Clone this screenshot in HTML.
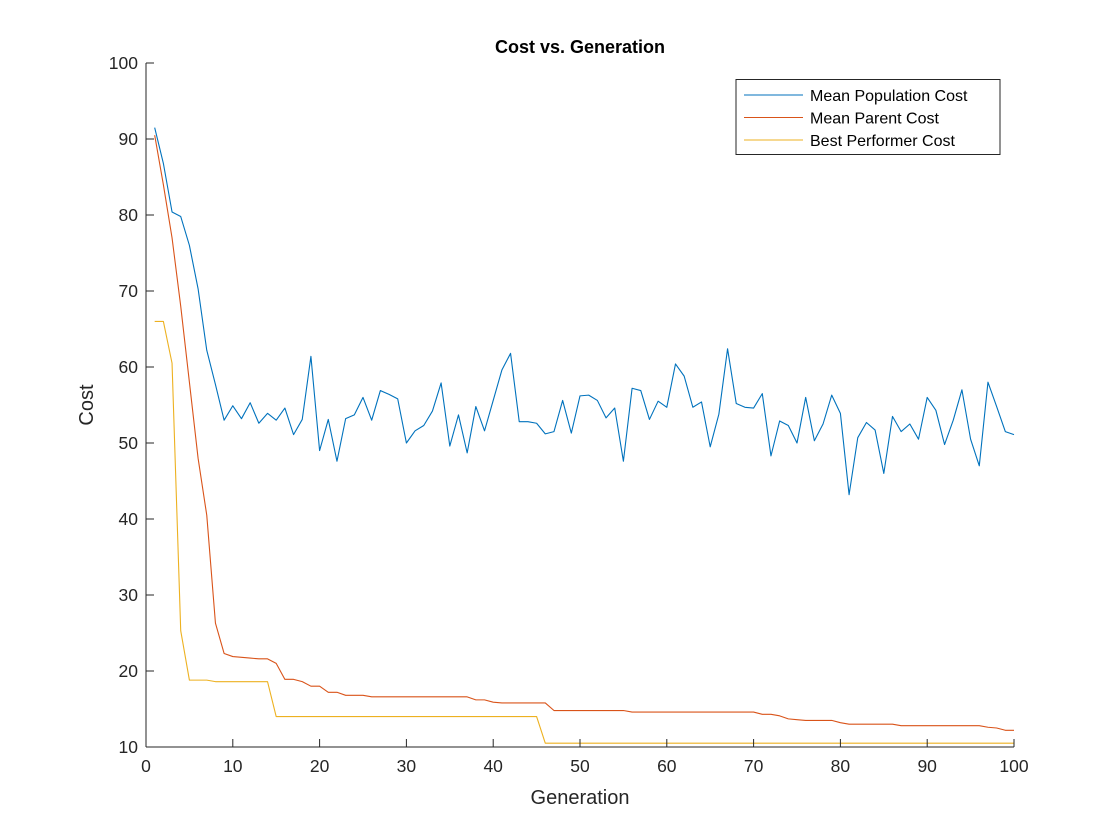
<!DOCTYPE html>
<html><head><meta charset="utf-8"><style>
html,body{margin:0;padding:0;background:#fff;}
svg{display:block;font-family:"Liberation Sans",Arial,sans-serif;}
</style></head><body>
<svg id="chart" width="1120" height="840" viewBox="0 0 1120 840" xmlns="http://www.w3.org/2000/svg">
<rect width="1120" height="840" fill="#fff"/>
<g id="series"></g>
<g id="axes"></g>
<text x="580" y="53" text-anchor="middle" font-size="18" font-weight="bold" fill="#000">Cost vs. Generation</text>
<text x="580" y="804" text-anchor="middle" font-size="20" fill="#262626">Generation</text>
<text transform="translate(93,405) rotate(-90)" text-anchor="middle" font-size="20" fill="#262626">Cost</text>
<g>
<rect x="736" y="79.5" width="264" height="75" fill="#fff" stroke="#262626" stroke-width="1"/>
<line x1="744" y1="95" x2="803" y2="95" stroke="#0072bd" stroke-width="1"/>
<text x="810" y="101" font-size="16" fill="#000">Mean Population Cost</text>
<line x1="744" y1="117.5" x2="803" y2="117.5" stroke="#d95319" stroke-width="1"/>
<text x="810" y="123.5" font-size="16" fill="#000">Mean Parent Cost</text>
<line x1="744" y1="140" x2="803" y2="140" stroke="#edb120" stroke-width="1"/>
<text x="810" y="146" font-size="16" fill="#000">Best Performer Cost</text>
</g>
</svg>
<script>
const xTicks=[0,10,20,30,40,50,60,70,80,90,100];
const yTicks=[10,20,30,40,50,60,70,80,90,100];
const meanPopulation=[91.5,86.8,80.4,79.8,76,70.3,62.2,57.7,53,54.9,53.2,55.3,52.6,53.9,53,54.6,51.1,53.1,61.4,49,53.1,47.6,53.2,53.7,56,53,56.9,56.4,55.8,50,51.6,52.3,54.2,57.9,49.6,53.7,48.7,54.8,51.6,55.6,59.6,61.8,52.8,52.8,52.6,51.2,51.5,55.6,51.3,56.2,56.3,55.6,53.3,54.6,47.6,57.2,56.9,53.1,55.5,54.7,60.4,58.8,54.7,55.4,49.5,53.8,62.4,55.2,54.7,54.6,56.5,48.3,52.9,52.3,50,56,50.3,52.5,56.3,53.9,43.2,50.7,52.7,51.7,46,53.5,51.5,52.5,50.5,56,54.3,49.8,53,57,50.5,47,58,54.8,51.5,51.1];
const meanParent=[90.5,84,77,68,58,48,40.5,26.3,22.3,21.9,21.8,21.7,21.6,21.6,21,18.9,18.9,18.6,18,18,17.2,17.2,16.8,16.8,16.8,16.6,16.6,16.6,16.6,16.6,16.6,16.6,16.6,16.6,16.6,16.6,16.6,16.2,16.2,15.9,15.8,15.8,15.8,15.8,15.8,15.8,14.8,14.8,14.8,14.8,14.8,14.8,14.8,14.8,14.8,14.6,14.6,14.6,14.6,14.6,14.6,14.6,14.6,14.6,14.6,14.6,14.6,14.6,14.6,14.6,14.3,14.3,14.1,13.7,13.6,13.5,13.5,13.5,13.5,13.2,13,13,13,13,13,13,12.8,12.8,12.8,12.8,12.8,12.8,12.8,12.8,12.8,12.8,12.6,12.5,12.2,12.2];
const bestPerformer=[66,66,60.5,25.3,18.8,18.8,18.8,18.6,18.6,18.6,18.6,18.6,18.6,18.6,14,14,14,14,14,14,14,14,14,14,14,14,14,14,14,14,14,14,14,14,14,14,14,14,14,14,14,14,14,14,14,10.5,10.5,10.5,10.5,10.5,10.5,10.5,10.5,10.5,10.5,10.5,10.5,10.5,10.5,10.5,10.5,10.5,10.5,10.5,10.5,10.5,10.5,10.5,10.5,10.5,10.5,10.5,10.5,10.5,10.5,10.5,10.5,10.5,10.5,10.5,10.5,10.5,10.5,10.5,10.5,10.5,10.5,10.5,10.5,10.5,10.5,10.5,10.5,10.5,10.5,10.5,10.5,10.5,10.5,10.5];

const L=146,R=1014,T=63,B=747;
const xS=v=>L+(v-0)/(100-0)*(R-L);
const yS=v=>B-(v-10)/(100-10)*(B-T);
const NS="http://www.w3.org/2000/svg";
const axes=document.getElementById('axes');
const series=document.getElementById('series');
function mk(tag,attrs,parent){const e=document.createElementNS(NS,tag);for(const k in attrs)e.setAttribute(k,attrs[k]);parent.appendChild(e);return e;}

const xa=mk('line',{x1:L,y1:B,x2:R,y2:B,stroke:'#262626','stroke-width':1},axes);


const ya=mk('line',{x1:L,y1:T,x2:L,y2:B,stroke:'#262626','stroke-width':1},axes);



xTicks.forEach(t=>{
  const x=xS(t);
  mk('line',{x1:x,y1:B,x2:x,y2:B-8,stroke:'#262626','stroke-width':1},axes);
  const tx=mk('text',{x:x,y:B+25,'text-anchor':'middle','font-size':17.5,fill:'#262626'},axes);
  tx.textContent=t;
  
  
});
yTicks.forEach(t=>{
  const y=yS(t);
  mk('line',{x1:L,y1:y,x2:L+8,y2:y,stroke:'#262626','stroke-width':1},axes);
  const tx=mk('text',{x:L-8,y:y+6,'text-anchor':'end','font-size':17.5,fill:'#262626'},axes);
  tx.textContent=t;
  
  
});

function drawLine(data,color,name){
  const pts=data.map((v,i)=>xS(i+1).toFixed(2)+','+yS(v).toFixed(2)).join(' ');
  const p=mk('polyline',{points:pts,fill:'none',stroke:color,'stroke-width':1.1,'stroke-linejoin':'round'},series);
  
  
}
drawLine(meanPopulation,'#0072bd','mean-population-cost-line');
drawLine(meanParent,'#d95319','mean-parent-cost-line');
drawLine(bestPerformer,'#edb120','best-performer-cost-line');
</script>
</body></html>
